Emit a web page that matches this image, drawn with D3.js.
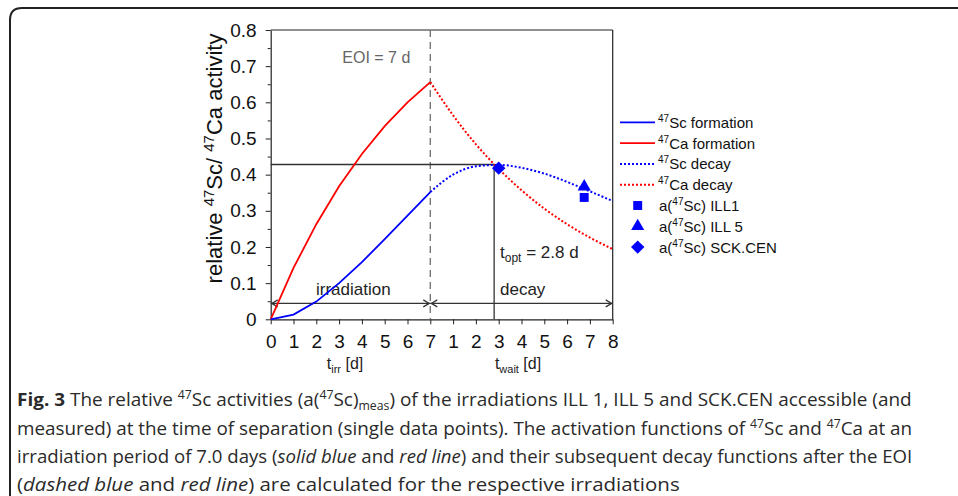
<!DOCTYPE html>
<html>
<head>
<meta charset="utf-8">
<script src="https://cdn.jsdelivr.net/npm/d3@7"></script>
<style>
  html, body { margin: 0; padding: 0; background: #fff; }
  svg { display: block; }
</style>
</head>
<body>
<script>
// ---------------- DATA ----------------
const irrDays      = [0, 1, 2, 3, 4, 5, 6, 7];
const scFormation  = [0, 0.013, 0.049, 0.100, 0.158, 0.222, 0.287, 0.352];
const caFormation  = [0, 0.142, 0.263, 0.368, 0.457, 0.534, 0.600, 0.656];
const waitDays     = [0, 1, 2, 3, 4, 5, 6, 7, 8];
const scDecay      = [0.352, 0.400, 0.423, 0.427, 0.419, 0.403, 0.380, 0.354, 0.327];
const caDecay      = [0.656, 0.564, 0.484, 0.416, 0.357, 0.306, 0.263, 0.226, 0.194];
const measNames    = ["ILL1", "ILL 5", "SCK.CEN"];
const measSymbols  = ["square", "triangle", "diamond"];
const measWait     = [6.75, 6.75, 3.0];
const measValues   = [0.337, 0.367, 0.418];
const xTickLabels  = ["0","1","2","3","4","5","6","7","1","2","3","4","5","6","7","8"];
const yTicks       = [0, 0.1, 0.2, 0.3, 0.4, 0.5, 0.6, 0.7, 0.8];
const eoiDay       = 7;
const tOpt         = 2.8;
const aOpt         = 0.428;
const arrowLevel   = 0.044;

// ---------------- SETUP ----------------
const W = 958, H = 496;
const svg = d3.select("body").append("svg").attr("width", W).attr("height", H);
const x = d3.scaleLinear().domain([0, 15]).range([270.7, 612.7]);
const y = d3.scaleLinear().domain([0, 0.8]).range([319.3, 30]);
const xi = t => x(t);            // irradiation time
const xw = t => x(eoiDay + t);   // waiting time after EOI
const ink = "#222";
const chartFont = "'Liberation Sans', Arial, sans-serif";

// frame
svg.append("path")
  .attr("d", "M 960 8 L 22 8 Q 10 8 10 20 L 10 500")
  .attr("fill", "none").attr("stroke", "#222").attr("stroke-width", 2);

const g = svg.append("g").attr("font-family", chartFont);

// axes
const yAxis = d3.axisLeft(y).tickValues(yTicks).tickSize(5).tickPadding(9)
  .tickSizeOuter(0).tickFormat(d => d === 0 ? "0" : d3.format(".1f")(d));
const yAx = g.append("g").attr("transform", `translate(${x(0)},0)`).call(yAxis);
yAx.attr("font-size", 19).attr("font-family", chartFont);
yAx.selectAll("text").attr("fill", "#111");
yAx.selectAll("line").attr("stroke", ink);
yAx.select(".domain").attr("stroke", ink).attr("stroke-width", 1.2);

const minor = d3.range(0.05, 0.8, 0.1);
const yMinor = d3.axisLeft(y).tickValues(minor).tickSize(3).tickFormat("").tickSizeOuter(0);
const yMi = g.append("g").attr("transform", `translate(${x(0)},0)`).call(yMinor);
yMi.select(".domain").remove();
yMi.selectAll("line").attr("stroke", ink);

const xAxis = d3.axisBottom(x).tickValues(d3.range(16)).tickSize(5).tickPadding(10)
  .tickSizeOuter(0).tickFormat(i => xTickLabels[i]);
const xAx = g.append("g").attr("transform", `translate(0,${y(0)})`).call(xAxis);
xAx.attr("font-size", 19).attr("font-family", chartFont);
xAx.selectAll("text").attr("fill", "#111");
xAx.selectAll("line").attr("stroke", ink);
xAx.select(".domain").attr("stroke", ink).attr("stroke-width", 1.2);

// box top and right
g.append("line").attr("x1", x(0)).attr("x2", x(15)).attr("y1", y(0.8)).attr("y2", y(0.8))
  .attr("stroke", ink).attr("stroke-width", 1.2);
g.append("line").attr("x1", x(15)).attr("x2", x(15)).attr("y1", y(0.8)).attr("y2", y(0))
  .attr("stroke", ink).attr("stroke-width", 1.2);

// EOI dashed line
g.append("line").attr("x1", xi(eoiDay)).attr("x2", xi(eoiDay)).attr("y1", y(0.8)).attr("y2", y(0))
  .attr("stroke", "#777").attr("stroke-width", 1.4).attr("stroke-dasharray", "7,5");
g.append("text").attr("x", xi(eoiDay) - 88).attr("y", 63.3).attr("font-size", 16)
  .attr("fill", "#666").text("EOI = 7 d");

// optimum lines
g.append("line").attr("x1", x(0)).attr("x2", xw(tOpt)).attr("y1", y(aOpt)).attr("y2", y(aOpt))
  .attr("stroke", "#333").attr("stroke-width", 1.3);
g.append("line").attr("x1", xw(tOpt)).attr("x2", xw(tOpt)).attr("y1", y(aOpt)).attr("y2", y(0))
  .attr("stroke", "#333").attr("stroke-width", 1.3);

// double arrows
function dblArrow(x1, x2, yy) {
  const a = g.append("g").attr("stroke", "#333").attr("stroke-width", 1.2).attr("fill", "none");
  a.append("line").attr("x1", x1).attr("x2", x2).attr("y1", yy).attr("y2", yy);
  a.append("path").attr("d", `M ${x1 + 7} ${yy - 3.5} L ${x1 + 1} ${yy} L ${x1 + 7} ${yy + 3.5}`);
  a.append("path").attr("d", `M ${x2 - 7} ${yy - 3.5} L ${x2 - 1} ${yy} L ${x2 - 7} ${yy + 3.5}`);
}
dblArrow(xi(0), xi(eoiDay), y(arrowLevel));
dblArrow(xi(eoiDay), xw(8), y(arrowLevel));

g.append("text").attr("x", 353.3).attr("y", 295).attr("text-anchor", "middle")
  .attr("font-size", 17).attr("fill", "#222").text("irradiation");
g.append("text").attr("x", 500).attr("y", 295)
  .attr("font-size", 17).attr("fill", "#222").text("decay");
const topt = g.append("text").attr("x", 500).attr("y", 258.3).attr("font-size", 17).attr("fill", "#222");
topt.append("tspan").text("t");
topt.append("tspan").attr("font-size", 12).attr("dy", 4).text("opt");
topt.append("tspan").attr("dy", -4).text(" = 2.8 d");

// curves
const lineGen = d3.line().x(d => d[0]).y(d => d[1]);
const smooth = d3.line().x(d => d[0]).y(d => d[1]).curve(d3.curveMonotoneX);
g.append("path").datum(irrDays.map((t, i) => [xi(t), y(caFormation[i])]))
  .attr("d", lineGen).attr("fill", "none").attr("stroke", "#ff0000").attr("stroke-width", 1.8);
g.append("path").datum(irrDays.map((t, i) => [xi(t), y(scFormation[i])]))
  .attr("d", lineGen).attr("fill", "none").attr("stroke", "#0000ff").attr("stroke-width", 1.8);
g.append("path").datum(waitDays.map((t, i) => [xw(t), y(caDecay[i])]))
  .attr("d", smooth).attr("fill", "none").attr("stroke", "#ff0000").attr("stroke-width", 2)
  .attr("stroke-dasharray", "2,2");
g.append("path").datum(waitDays.map((t, i) => [xw(t), y(scDecay[i])]))
  .attr("d", smooth).attr("fill", "none").attr("stroke", "#0000ff").attr("stroke-width", 2)
  .attr("stroke-dasharray", "2,2");

// markers
const symMap = { square: [d3.symbolSquare, 80, 0], triangle: [d3.symbolTriangle, 75, 0], diamond: [d3.symbolSquare, 90, 45] };
function sym(name) { return d3.symbol().type(symMap[name][0]).size(symMap[name][1])(); }
function placeSym(name, cx, cy) {
  g.append("path").attr("d", sym(name))
    .attr("transform", `translate(${cx},${cy}) rotate(${symMap[name][2]})`)
    .attr("fill", "#0000ff");
}
measNames.forEach((n, i) => placeSym(measSymbols[i], xw(measWait[i]), y(measValues[i])));

// axis titles
const tIrr = g.append("text").attr("x", 345).attr("y", 369).attr("text-anchor", "middle")
  .attr("font-size", 16).attr("fill", "#222");
tIrr.append("tspan").text("t");
tIrr.append("tspan").attr("font-size", 11).attr("dy", 4).text("irr");
tIrr.append("tspan").attr("dy", -4).text(" [d]");
const tWait = g.append("text").attr("x", 518).attr("y", 369).attr("text-anchor", "middle")
  .attr("font-size", 16).attr("fill", "#222");
tWait.append("tspan").text("t");
tWait.append("tspan").attr("font-size", 11).attr("dy", 4).text("wait");
tWait.append("tspan").attr("dy", -4).text(" [d]");

// y label
const yl = g.append("text").attr("transform", "translate(221.7,158.5) rotate(-90)")
  .attr("text-anchor", "middle").attr("font-size", 22).attr("fill", "#111");
yl.append("tspan").text("relative ");
yl.append("tspan").attr("font-size", 15).attr("dy", -8).text("47");
yl.append("tspan").attr("dy", 8).text("Sc/ ");
yl.append("tspan").attr("font-size", 15).attr("dy", -8).text("47");
yl.append("tspan").attr("dy", 8).text("Ca activity");

// legend
const legLines = [
  { label: "Sc formation", color: "#0000ff", dash: null },
  { label: "Ca formation", color: "#ff0000", dash: null },
  { label: "Sc decay", color: "#0000ff", dash: "2,2" },
  { label: "Ca decay", color: "#ff0000", dash: "2,2" }
];
const legY0 = 122.3, legDy = 20.8;
legLines.forEach((d, i) => {
  const yy = legY0 + i * legDy;
  g.append("line").attr("x1", 620).attr("x2", 655).attr("y1", yy).attr("y2", yy)
    .attr("stroke", d.color).attr("stroke-width", d.dash ? 2 : 1.8).attr("stroke-dasharray", d.dash);
  const t = g.append("text").attr("x", 658).attr("y", yy + 5.5).attr("font-size", 15).attr("fill", "#111");
  t.append("tspan").attr("font-size", 10).attr("dy", -6).text("47");
  t.append("tspan").attr("dy", 6).text(d.label);
});
measNames.forEach((n, i) => {
  const yy = legY0 + (4 + i) * legDy;
  placeSym(measSymbols[i], 637.7, yy);
  const t = g.append("text").attr("x", 659).attr("y", yy + 5.5).attr("font-size", 15).attr("fill", "#111");
  t.append("tspan").text("a(");
  t.append("tspan").attr("font-size", 10).attr("dy", -6).text("47");
  t.append("tspan").attr("dy", 6).text("Sc) " + n);
});

// ---------------- CAPTION ----------------
const capLines = [
  [["Fig. 3", "b"], [" The relative ", ""], ["47", "sup"], ["Sc activities (a(", ""], ["47", "sup"], ["Sc)", ""], ["meas", "sub"],
   [") of the irradiations ILL 1, ILL 5 and SCK.CEN accessible (and", ""]],
  [["measured) at the time of separation (single data points). The activation functions of ", ""], ["47", "sup"],
   ["Sc and ", ""], ["47", "sup"], ["Ca at an", ""]],
  [["irradiation period of 7.0 days (", ""], ["solid blue", "i"], [" and ", ""], ["red line", "i"],
   [") and their subsequent decay functions after the EOI", ""]],
  [["(", ""], ["dashed blue", "i"], [" and ", ""], ["red line", "i"], [") are calculated for the respective irradiations", ""]]
];
const capBase = [406, 434.5, 463, 491];
const capRight = [912, 913, 913, 680];
const capX = 17;
capLines.forEach((segs, li) => {
  const cg = svg.append("g");
  const t = cg.append("text").attr("x", 0).attr("y", 0)
    .attr("font-family", "'Open Sans', 'Noto Sans', sans-serif").attr("font-size", 18.5).attr("fill", "#2a2a2a");
  let shift = 0;
  segs.forEach(([txt, st]) => {
    const sp = t.append("tspan").text(txt);
    let target = 0;
    if (st === "sup") { target = -7; sp.attr("font-size", 12); }
    if (st === "sub") { target = 4; sp.attr("font-size", 12); }
    if (st === "b") sp.attr("font-weight", "bold");
    if (st === "i") sp.attr("font-style", "italic");
    if (target !== shift) { sp.attr("dy", target - shift); shift = target; }
  });
  const w = t.node().getComputedTextLength();
  const k = (capRight[li] - capX) / w;
  cg.attr("transform", `translate(${capX},${capBase[li]}) scale(${k},1)`);
});
</script>
</body>
</html>
